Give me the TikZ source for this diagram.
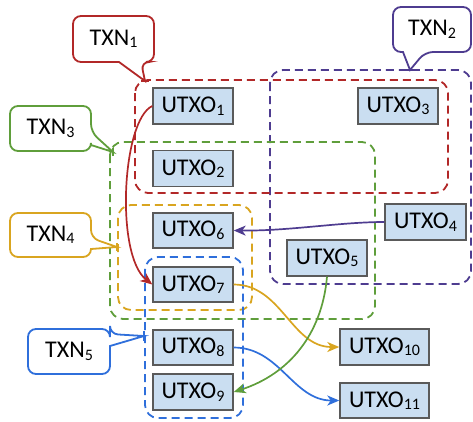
\documentclass[tikz,border=0pt]{standalone}
\usepackage{fontspec}
\setmainfont{Carlito}
\usetikzlibrary{arrows.meta}
\definecolor{cred}{HTML}{B22828}
\definecolor{cpur}{HTML}{4E3C90}
\definecolor{cgrn}{HTML}{5F9E3B}
\definecolor{cyel}{HTML}{D9A520}
\definecolor{cblu}{HTML}{2F6FDB}
\definecolor{boxfill}{HTML}{CADEF1}
\definecolor{boxline}{HTML}{5A5A5A}
\newcommand\sbs[1]{\raisebox{-2.5pt}{\fontsize{16}{16}\selectfont #1}}
\begin{document}
\begin{tikzpicture}[x=1pt,y=-1pt,
  font=\fontsize{24}{28}\selectfont,
  utxo/.style={draw=boxline,fill=boxfill,line width=1.4pt,minimum width=80pt,minimum height=36pt,inner sep=0pt},
  grp/.style={line width=1.8pt,dash pattern=on 8pt off 5pt,rounded corners=13pt},
  lnk/.style={line width=1.7pt,-{Stealth[length=12pt,width=10pt,inset=3.5pt]}},
  cbox/.style={line width=1.8pt,fill=white,line join=miter},
  ctext/.style={inner sep=0pt,text=black}
]
\useasboundingbox (0,0) rectangle (473,421);

% group boxes
\draw[grp,draw=cpur] (270,70) rectangle (471,284);
\draw[grp,draw=cred] (135,80) rectangle (448,193);
\draw[grp,draw=cgrn] (110,142) rectangle (375,319);
\draw[grp,draw=cyel] (118,205) rectangle (252,310);
\draw[grp,draw=cblu] (145,257) rectangle (243,418);

% UTXO boxes
\node[utxo] (u1) at (193,106) {UTXO\sbs{1}};
\node[utxo] (u2) at (193,168.5) {UTXO\sbs{2}};
\node[utxo] (u3) at (398,106) {UTXO\sbs{3}};
\node[utxo,minimum width=81pt] (u4) at (425.5,222) {UTXO\sbs{4}};
\node[utxo] (u5) at (327,258) {UTXO\sbs{5}};
\node[utxo,minimum height=35pt] (u6) at (193,230.5) {UTXO\sbs{6}};
\node[utxo,minimum height=35pt] (u7) at (193,284.5) {UTXO\sbs{7}};
\node[utxo,minimum height=35pt] (u8) at (193,347.5) {UTXO\sbs{8}};
\node[utxo] (u9) at (193,392) {UTXO\sbs{9}};
\node[utxo,minimum width=89pt] (u10) at (384.5,347) {UTXO\sbs{10}};
\node[utxo,minimum width=89pt,minimum height=35pt] (u11) at (384.5,400.5) {UTXO\sbs{11}};

% links
\draw[lnk,cred] (u1.west) .. controls (122,120) and (115,255) .. (u7.west);
\draw[lnk,cpur] (u4.west) .. controls (340,222) and (290,231) .. (u6.east);
\draw[lnk,cyel] (u7.east) to[out=0,in=180] (u10.west);
\draw[lnk,cblu] (u8.east) to[out=0,in=180] (u11.west);
\draw[lnk,cgrn] (u5.south) to[out=-95,in=18] (u9.east);

% callouts
\coordinate (p1) at (145,81);
\coordinate (p2) at (410,70);
\coordinate (p3) at (113,152);
\coordinate (p4) at (117,247);
\coordinate (p5) at (144,336);

\draw[cbox,draw=cred] (113,16) [rounded corners=8pt] -- (154,16) -- (154,62) -- (141,62) [sharp corners] -- (p1) -- (119,62) [rounded corners=8pt] -- (73,62) -- (73,16) -- cycle;
\node[ctext] (t1) at (113.5,39) {TXN\sbs{1}};

\draw[cbox,draw=cpur] (432,7) [rounded corners=8pt] -- (471,7) -- (471,52) -- (425,52) [sharp corners] -- (p2) -- (403,52) [rounded corners=8pt] -- (393,52) -- (393,7) -- cycle;
\node[ctext] (t2) at (432,29.5) {TXN\sbs{2}};

\draw[cbox,draw=cgrn] (50,106) [rounded corners=8pt] -- (91,106) -- (91,132) [sharp corners] -- (p3) -- (91,145) [rounded corners=8pt] -- (91,151) -- (10,151) -- (10,106) -- cycle;
\node[ctext] (t3) at (50.5,128.5) {TXN\sbs{3}};

\draw[cbox,draw=cyel] (50,213) [rounded corners=8pt] -- (91,213) -- (91,238) [sharp corners] -- (p4) -- (91,249) [rounded corners=8pt] -- (91,257) -- (10,257) -- (10,213) -- cycle;
\node[ctext] (t4) at (50.5,235) {TXN\sbs{4}};

\draw[cbox,draw=cblu] (69,329) [rounded corners=8pt] -- (110,329) -- (110,334) [sharp corners] -- (p5) -- (110,346) [rounded corners=8pt] -- (110,374) -- (28,374) -- (28,329) -- cycle;
\node[ctext] (t5) at (69,351.5) {TXN\sbs{5}};

% ticks at callout tips
\draw[cred,line width=1.8pt] ([xshift=-4pt]p1) -- ([xshift=4pt]p1);
\draw[cpur,line width=1.8pt] ([xshift=-4pt]p2) -- ([xshift=4pt]p2);
\draw[cgrn,line width=1.8pt] ([yshift=-4pt]p3) -- ([yshift=4pt]p3);
\draw[cyel,line width=1.8pt] ([yshift=-4pt]p4) -- ([yshift=4pt]p4);
\draw[cblu,line width=1.8pt] ([yshift=-5pt]p5) -- ([yshift=5pt]p5);
\end{tikzpicture}
\end{document}
